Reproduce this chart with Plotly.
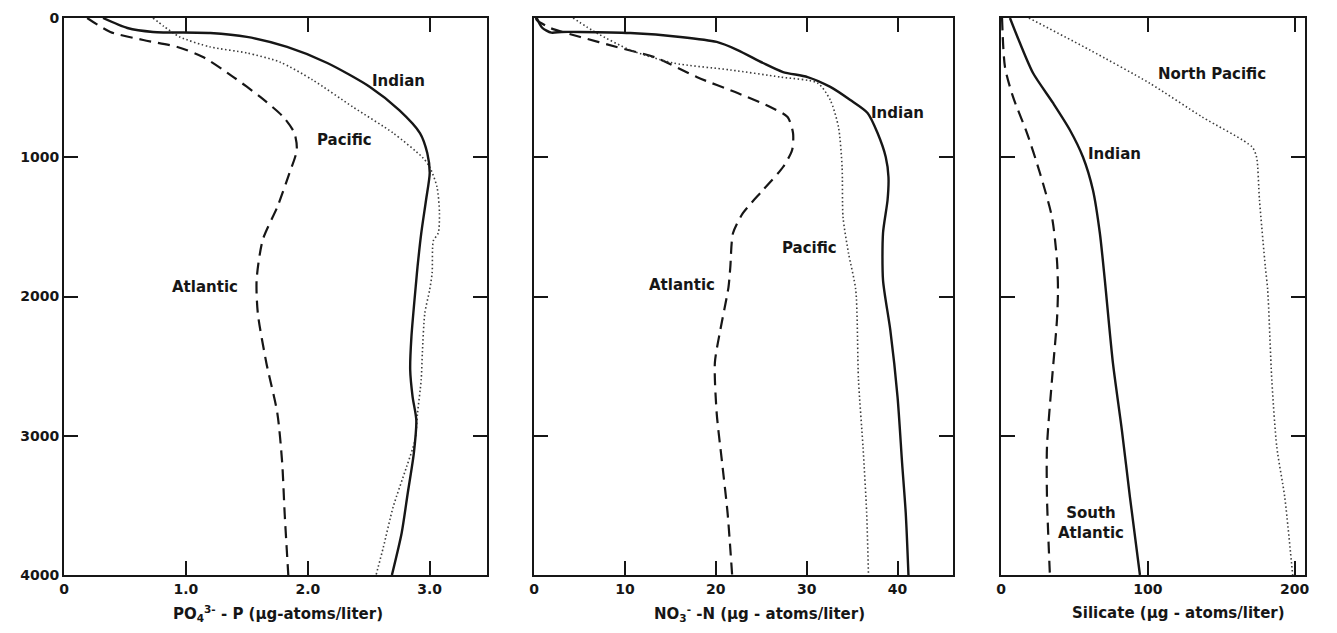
import plotly.graph_objects as go

# ---------------- data (depth in m, concentration) ----------------
# Panel 1: phosphate (PO4-P, ug-atoms/liter)
po4_indian_depth = [0, 72, 100, 108, 136, 208, 323, 495, 661, 826, 970, 1113, 1307, 1550, 1788,
                    1882, 2290, 2528, 2722, 2887, 3124, 3411, 3698, 4000]
po4_indian = [0.32, 0.52, 0.73, 1.20, 1.50, 1.83, 2.16, 2.51, 2.75, 2.92, 2.98, 3.00, 2.97, 2.93, 2.90,
              2.89, 2.85, 2.84, 2.86, 2.89, 2.87, 2.82, 2.77, 2.69]
po4_pacific_depth = [0, 60, 136, 208, 251, 316, 445, 639, 826, 1000, 1070, 1214, 1400, 1544, 1600,
                     1831, 1950, 2120, 2400, 2600, 2837, 3030, 3224, 3512, 3800, 4000]
po4_pacific = [0.73, 0.82, 0.95, 1.20, 1.50, 1.77, 2.04, 2.37, 2.70, 2.94, 3.00, 3.06, 3.08, 3.07, 3.03,
               3.02, 3.00, 2.96, 2.94, 2.93, 2.90, 2.88, 2.81, 2.70, 2.62, 2.56]
po4_atlantic_depth = [0, 100, 158, 208, 280, 424, 567, 711, 826, 948, 1113, 1357, 1594, 1882, 2120,
                      2477, 2837, 3196, 3555, 4000]
po4_atlantic = [0.19, 0.38, 0.65, 0.93, 1.14, 1.39, 1.61, 1.80, 1.89, 1.91, 1.85, 1.75, 1.63, 1.58, 1.59,
                1.66, 1.75, 1.79, 1.81, 1.84]

# Panel 2: nitrate (NO3-N, ug-atoms/liter)
no3_indian_depth = [0, 70, 105, 100, 100, 108, 136, 172, 230, 323, 388, 424, 495, 589, 682, 826, 998,
                    1142, 1307, 1544, 1882, 2240, 2722, 3196, 3555, 4000]
no3_indian = [0.3, 0.9, 1.9, 3.0, 5.1, 10.6, 16.1, 20.1, 22.4, 25.2, 27.4, 30.1, 32.6, 34.8, 36.7, 37.8,
              38.7, 39.0, 38.9, 38.4, 38.4, 39.2, 40.0, 40.5, 40.9, 41.2]
no3_pacific_depth = [0, 108, 230, 323, 373, 424, 467, 589, 783, 1070, 1429, 1688, 1953, 2600, 3081,
                     3555, 4000]
no3_pacific = [4.3, 6.9, 10.6, 15.3, 21.6, 27.1, 31.2, 32.6, 33.5, 33.9, 34.0, 34.6, 35.4, 35.7, 36.2,
               36.6, 36.8]
no3_atlantic_depth = [0, 14, 72, 136, 208, 287, 424, 539, 639, 711, 826, 948, 1070, 1235, 1400, 1544,
                      1788, 1932, 2240, 2477, 2837, 3196, 3555, 4000]
no3_atlantic = [0.2, 0.3, 1.8, 5.1, 9.1, 13.5, 17.9, 22.4, 26.0, 27.9, 28.5, 28.4, 27.4, 25.2, 23.0,
                21.9, 21.6, 21.4, 20.5, 19.9, 20.1, 20.7, 21.3, 21.8]

# Panel 3: silicate (ug-atoms/liter)
si_indian_depth = [0, 180, 395, 610, 804, 998, 1235, 1544, 1882, 2477, 2959, 3440, 4000]
si_indian = [6.1, 12.9, 21.8, 35.4, 46.9, 55.8, 62.6, 67.3, 70.7, 76.2, 82.3, 87.8, 94.6]
si_satlantic_depth = [0, 352, 567, 826, 1113, 1429, 1738, 1953, 2169, 2600, 3081, 3440, 4000]
si_satlantic = [0.7, 2.7, 8.2, 17.7, 26.5, 34.7, 38.1, 38.8, 38.1, 34.7, 31.3, 31.3, 33.3]
si_npacific_depth = [0, 230, 467, 711, 926, 998, 1307, 1788, 1953, 2600, 3081, 3440, 4000]
si_npacific = [19.0, 60.5, 101.0, 137.0, 171.0, 174.0, 176.0, 180.0, 181.6, 184.4, 187.8, 193.2, 198.6]

# tick labels
depth_ticks = [0, 1000, 2000, 3000, 4000]
depth_labels = ["0", "1000", "2000", "3000", "4000"]
po4_ticks = [0, 1, 2, 3]
po4_labels = ["0", "1.0", "2.0", "3.0"]
no3_ticks = [0, 10, 20, 30, 40]
no3_labels = ["0", "10", "20", "30", "40"]
si_ticks = [0, 100, 200]
si_labels = ["0", "100", "200"]

# ---------------- styles ----------------
INK = "#161616"
FONT = "DejaVu Sans"
solid = dict(color=INK, width=2.4)
dashed = dict(color=INK, width=2.2, dash="12px,7px")
dotted = dict(color="#3c3c3c", width=1.6, dash="1.5px,2.5px")

fig = go.Figure()

def add(x, y, line, xa, ya):
    fig.add_trace(go.Scatter(x=x, y=y, mode="lines", line=dict(shape="spline", smoothing=0.7, **line),
                             xaxis=xa, yaxis=ya, hoverinfo="skip"))

add(po4_atlantic, po4_atlantic_depth, dashed, "x", "y")
add(po4_pacific, po4_pacific_depth, dotted, "x", "y")
add(po4_indian, po4_indian_depth, solid, "x", "y")

add(no3_atlantic, no3_atlantic_depth, dashed, "x2", "y2")
add(no3_pacific, no3_pacific_depth, dotted, "x2", "y2")
add(no3_indian, no3_indian_depth, solid, "x2", "y2")

add(si_satlantic, si_satlantic_depth, dashed, "x3", "y3")
add(si_npacific, si_npacific_depth, dotted, "x3", "y3")
add(si_indian, si_indian_depth, solid, "x3", "y3")

# page body has an 8px margin: size the figure so that it fills the window exactly
OFF = 8
W, H = 1337 - 2 * OFF, 633 - 2 * OFF


def px_x(p):
    return (p - OFF) / W


def px_y(p):
    return 1 - (p - OFF) / H


ydom = [px_y(575), px_y(18)]

axis_common = dict(showline=True, linecolor=INK, linewidth=2, mirror="ticks", ticks="inside",
                   ticklen=14, tickwidth=1.6, tickcolor=INK, showgrid=False, zeroline=False,
                   tickfont=dict(family=FONT, size=14, color=INK, weight="bold"), automargin=False)

fig.update_layout(
    width=W, height=H, margin=dict(l=0, r=0, t=0, b=0),
    paper_bgcolor="white", plot_bgcolor="white", showlegend=False,
    xaxis=dict(domain=[px_x(64), px_x(487)], range=[0, 3.47], tickvals=po4_ticks, ticktext=po4_labels,
               anchor="y", **axis_common),
    xaxis2=dict(domain=[px_x(534), px_x(953)], range=[0, 46.1], tickvals=no3_ticks, ticktext=no3_labels,
                anchor="y2", **axis_common),
    xaxis3=dict(domain=[px_x(1001), px_x(1305)], range=[0, 207], tickvals=si_ticks, ticktext=si_labels,
                anchor="y3", **axis_common),
    yaxis=dict(domain=ydom, range=[4000, 0], tickvals=depth_ticks, ticktext=depth_labels,
               anchor="x", **axis_common),
    yaxis2=dict(domain=ydom, range=[4000, 0], tickvals=depth_ticks, showticklabels=False,
                anchor="x2", **axis_common),
    yaxis3=dict(domain=ydom, range=[4000, 0], tickvals=depth_ticks, showticklabels=False,
                anchor="x3", **axis_common),
)

lab = dict(family=FONT, size=15, color=INK, weight="bold")
annots = [
    ("x", "y", 2.74, 452, "Indian"),
    ("x", "y", 2.30, 876, "Pacific"),
    ("x", "y", 1.16, 1932, "Atlantic"),
    ("x2", "y2", 40.0, 682, "Indian"),
    ("x2", "y2", 30.3, 1652, "Pacific"),
    ("x2", "y2", 16.3, 1917, "Atlantic"),
    ("x3", "y3", 143.5, 402, "North Pacific"),
    ("x3", "y3", 77.6, 977, "Indian"),
    ("x3", "y3", 61.0, 3627, "South<br>Atlantic"),
]
for xr, yr, xv, yv, t in annots:
    fig.add_annotation(xref=xr, yref=yr, x=xv, y=yv, text=t, showarrow=False, font=lab)

titles = [
    (278, "PO<sub>4</sub><sup>3-</sup> - P (µg-atoms/liter)"),
    (759, "NO<sub>3</sub><sup>-</sup> -N (µg - atoms/liter)"),
    (1178, "Silicate (µg - atoms/liter)"),
]
for xp, t in titles:
    fig.add_annotation(xref="paper", yref="paper", x=px_x(xp), y=px_y(613), text=t, showarrow=False,
                       font=lab, xanchor="center", yanchor="middle")

fig.write_html("out.html")
